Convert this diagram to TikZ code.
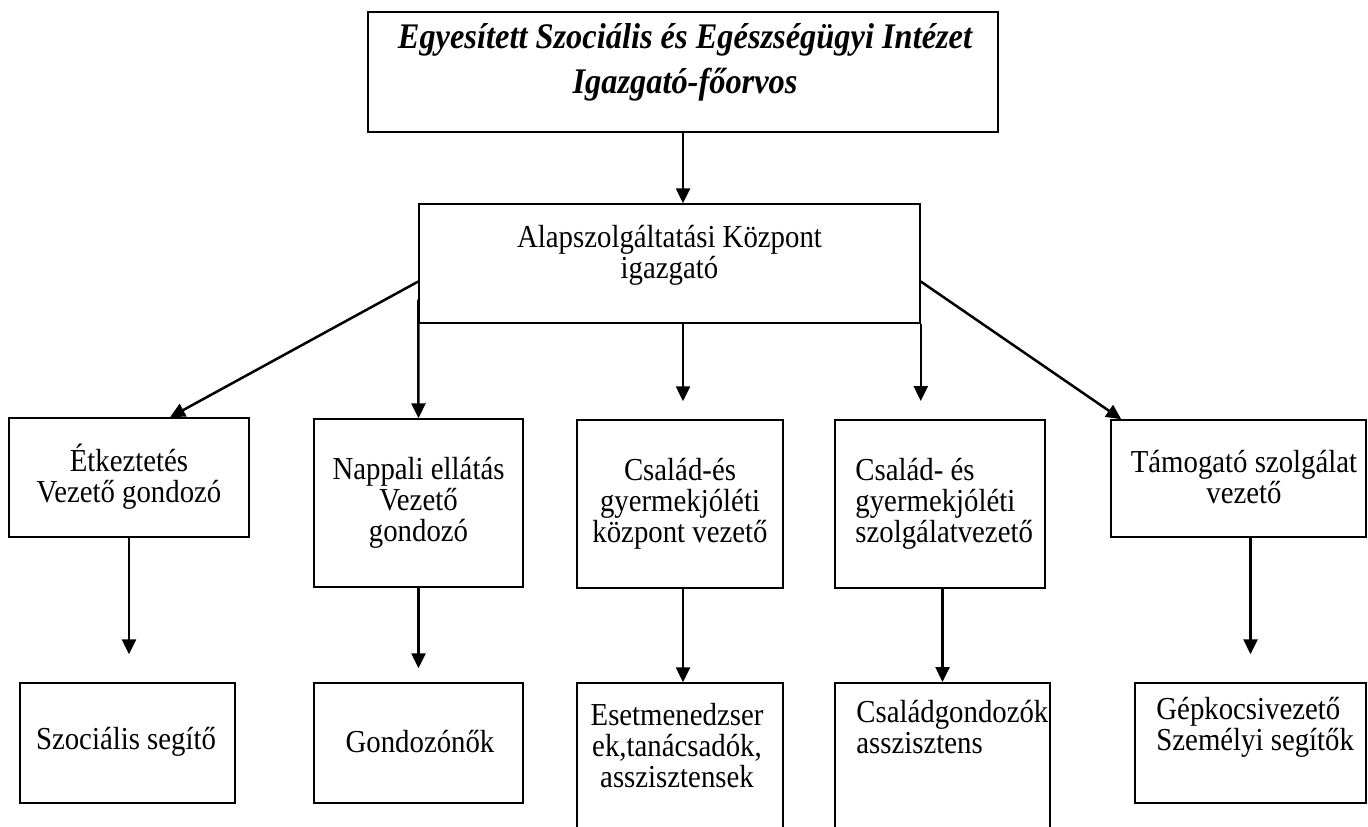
\documentclass[tikz,border=0pt]{standalone}
\usepackage{fontspec}
\setmainfont{Liberation Serif}[FakeStretch=0.9]
\usetikzlibrary{arrows.meta}
\tikzset{
	box/.style={draw, line width=0.75pt, inner sep=0pt},
	arr/.style={line width=1.25pt, -{Triangle[length=7.5pt, width=7pt]}},
	txt/.style={font=\fontsize{16}{15.5}\selectfont, align=center, inner sep=0pt},
}

\begin{document}
\begin{tikzpicture}[x=0.5pt, y=-0.5pt]
	\useasboundingbox (0, 0) rectangle (1368, 826);
	\fill[white] (0, 0) rectangle (1368, 826);
	\clip (0, 0) rectangle (1368, 826);
	% Boxes:
	\node[box, minimum width=315pt, minimum height=60pt](igf) at (683, 72){};
	\node[box, minimum width=250.5pt, minimum height=59.5pt](asz) at (669.5, 263.5){};
	\node[box, minimum width=120pt, minimum height=59.5pt](etk) at (129, 477.5){};
	\node[box, minimum width=104.5pt, minimum height=84pt](nap) at (418.5, 503){};
	\node[box, minimum width=103pt, minimum height=84pt](csk) at (680, 504){};
	\node[box, line width=1pt, minimum width=105pt, minimum height=84pt](csz) at (940, 504){};
	\node[box, minimum width=127.5pt, minimum height=58.5pt](tam) at (1238.5, 478.5){};
	\node[box, minimum width=107.5pt, minimum height=60pt](szo) at (127.5, 743){};
	\node[box, minimum width=104.5pt, minimum height=60pt](gon) at (418.5, 743){};
	\node[box, minimum width=103pt, minimum height=80pt](ese) at (680, 763){};
	\node[box, line width=1pt, minimum width=107.5pt, minimum height=80pt](csg) at (942.5, 763){};
	\node[box, minimum width=115.5pt, minimum height=60pt](gep) at (1250.5, 743){};
	% Texts:
	\node[txt, font=\fontsize{18}{22.5}\selectfont\bfseries\itshape](igf-t) at (685, 62){Egyesített Szociális és Egészségügyi Intézet\\Igazgató-főorvos};
	\node[txt](asz-t) at (669.5, 255){Alapszolgáltatási Központ\\igazgató};
	\node[txt](etk-t) at (129, 477){Étkeztetés\\Vezető gondozó};
	\node[txt](nap-t) at (418.5, 503){Nappali ellátás\\Vezető\\gondozó};
	\node[txt](csk-t) at (680, 504){Család-és\\gyermekjóléti\\központ vezető};
	\node[txt, align=left, anchor=west](csz-t) at (855, 504){Család- és\\gyermekjóléti\\szolgálatvezető};
	\node[txt](tam-t) at (1244, 477){Támogató szolgálat\\vezető};
	\node[txt](szo-t) at (126, 742){Szociális segítő};
	\node[txt](gon-t) at (420, 742){Gondozónők};
	\node[txt](ese-t) at (677, 746){Esetmenedzser\\ek,tanácsadók,\\asszisztensek};
	\node[txt, align=left, anchor=west](csg-t) at (856, 727){Családgondozók\\asszisztens};
	\node[txt, align=left, anchor=west](gep-t) at (1156, 727){Gépkocsivezető\\Személyi segítők};
	% Arrows:
	\draw[arr] (igf.south) -- (igf.south |- asz.north);
	\draw[arr] ([yshift=-9pt]asz.west) -- ([xshift=20.5pt]etk.north);
	\draw[arr] ([yshift=-18pt]asz.west) -- (nap.north);
	\draw[arr, shorten >=9pt] (igf.south |- asz.south) -- (igf.south |- csk.north);
	\draw[arr, shorten >=9pt] (asz.south east) -- (asz.south east |- csz.north);
	\draw[arr] ([yshift=-9pt]asz.east) -- ([xshift=5.5pt]tam.north west);
	\draw[arr, shorten >=14pt] (etk.south) -- (etk.south |- szo.north);
	\draw[arr, shorten >=7pt] (nap.south) -- (gon.north);
	\draw[arr] (igf.south |- csk.south) -- (igf.south |- ese.north);
	\draw[arr] (csg.north |- csz.south) -- (csg.north);
	\draw[arr, shorten >=14pt] (gep.north |- tam.south) -- (gep.north);
\end{tikzpicture}
\end{document}
